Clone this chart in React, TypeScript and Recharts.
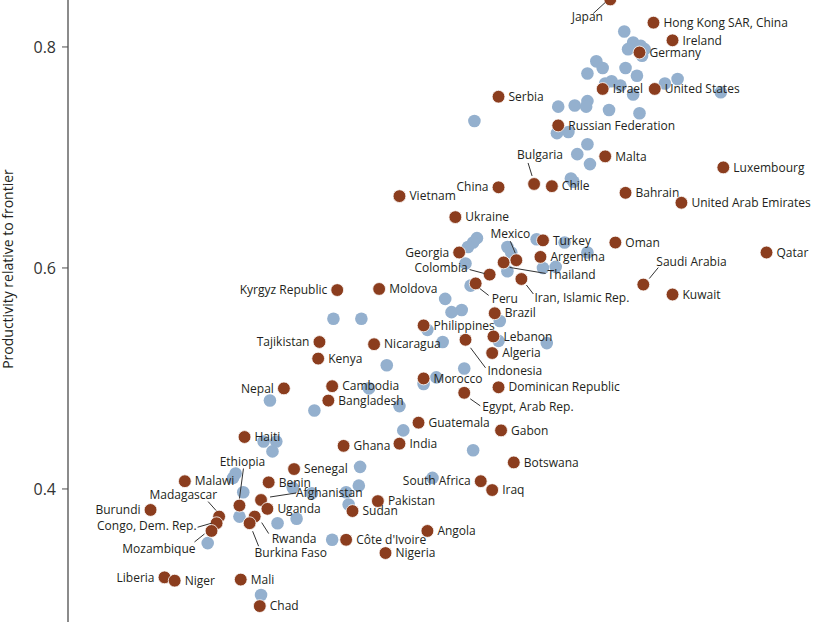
import React from "react";
import { Scatter, ScatterChart, XAxis, YAxis } from "recharts";

// Productivity relative to frontier vs. (unlabelled) income level, by economy.
const INK = "#231f20";
const AXIS = "#4d4d4d";
const BROWN = "#8b3d1e";
const BLUE = "#94b0ce";
const FONT = "'Open Sans', 'Noto Sans', sans-serif";

const Y_TICKS = [0.4, 0.6, 0.8];
const Y_DOMAIN: [number, number] = [0.2796, 0.8425];
const X_DOMAIN: [number, number] = [6, 12];

// Highlighted economies
const NAMES = [
  "Japan", "Hong Kong SAR, China", "Ireland", "Germany", "Israel", "United States",
  "Serbia", "Russian Federation", "Malta", "Luxembourg", "China", "Bulgaria", "Chile",
  "Bahrain", "United Arab Emirates", "Vietnam", "Ukraine", "Turkey", "Oman", "Qatar",
  "Georgia", "Argentina", "Mexico", "Thailand", "Colombia", "Iran, Islamic Rep.",
  "Saudi Arabia", "Kuwait", "Peru", "Brazil", "Philippines", "Lebanon", "Indonesia",
  "Algeria", "Morocco", "Dominican Republic", "Egypt, Arab Rep.", "Kyrgyz Republic",
  "Moldova", "Tajikistan", "Nicaragua", "Kenya", "Nepal", "Cambodia", "Bangladesh",
  "Guatemala", "Gabon", "India", "Botswana", "South Africa", "Iraq", "Angola", "Haiti",
  "Ghana", "Senegal", "Malawi", "Benin", "Afghanistan", "Uganda", "Pakistan", "Sudan",
  "Ethiopia", "Burundi", "Madagascar", "Congo, Dem. Rep.", "Mozambique", "Rwanda",
  "Burkina Faso", "Côte d'Ivoire", "Nigeria", "Liberia", "Niger", "Mali", "Chad",
];
const NAMED_X = [
  10.27, 10.61, 10.76, 10.5, 10.21, 10.62,
  9.39, 9.86, 10.23, 11.16, 9.39, 9.67, 9.81,
  10.39, 10.83, 8.61, 9.05, 9.74, 10.31, 11.5,
  9.08, 9.72, 9.53, 9.43, 9.32, 9.57,
  10.53, 10.76, 9.21, 9.36, 8.8, 9.35, 9.13,
  9.34, 8.8, 9.39, 9.12, 8.12,
  8.45, 7.98, 8.41, 7.97, 7.7, 8.08, 8.05,
  8.76, 9.41, 8.61, 9.51, 9.25, 9.34, 8.83, 7.39,
  8.17, 7.78, 6.92, 7.58, 7.52, 7.57, 8.44, 8.24,
  7.35, 6.65, 7.19, 7.17, 7.13, 7.47,
  7.43, 8.19, 8.5, 6.76, 6.84, 7.36, 7.51,
];
const NAMED_Y = [
  0.843, 0.822, 0.806, 0.795, 0.762, 0.762,
  0.755, 0.729, 0.701, 0.691, 0.673, 0.676, 0.674,
  0.668, 0.659, 0.665, 0.646, 0.625, 0.623, 0.614,
  0.614, 0.61, 0.607, 0.605, 0.594, 0.59,
  0.585, 0.576, 0.586, 0.559, 0.548, 0.538, 0.535,
  0.523, 0.5, 0.492, 0.487, 0.58,
  0.581, 0.533, 0.531, 0.518, 0.491, 0.493, 0.48,
  0.46, 0.453, 0.441, 0.424, 0.407, 0.399, 0.362, 0.447,
  0.439, 0.418, 0.407, 0.406, 0.39, 0.382, 0.389, 0.38,
  0.385, 0.381, 0.375, 0.369, 0.362, 0.375,
  0.369, 0.354, 0.342, 0.32, 0.317, 0.318, 0.294,
];

// Other economies
const OTHER_X = [
  10.38, 10.45, 10.41, 10.51, 10.54, 10.52, 10.16, 10.21, 10.09, 10.39, 10.48, 10.7,
  10.8, 11.14, 10.23, 10.28, 10.35, 10.45, 10.09, 10.08, 9.99, 9.86, 10.26, 10.5,
  9.2, 9.85, 9.94, 10.09, 10.01, 10.11, 9.96, 9.98,
  9.22, 9.19, 9.15, 9.69, 9.91, 10.09, 9.46, 9.49, 9.13, 9.74, 9.84, 9.46,
  9.17, 8.97, 9.02, 9.1, 9.4, 8.83, 8.95, 9.39, 9.77, 9.12, 8.9, 8.8,
  8.09, 8.31, 8.51, 7.59, 7.94, 8.37, 8.61, 8.64, 9.19, 8.87,
  7.54, 7.64, 7.61, 7.32, 7.3, 7.38, 8.3, 8.29, 8.19, 8.21, 7.77, 7.92,
  7.35, 7.65, 7.8, 8.08, 7.1, 7.52,
];
const OTHER_Y = [
  0.814, 0.804, 0.798, 0.801, 0.798, 0.792, 0.787, 0.781, 0.776, 0.781, 0.774, 0.767,
  0.771, 0.759, 0.767, 0.769, 0.765, 0.757, 0.751, 0.746, 0.747, 0.746, 0.743, 0.74,
  0.733, 0.722, 0.723, 0.712, 0.703, 0.694, 0.681, 0.678,
  0.627, 0.623, 0.619, 0.626, 0.623, 0.614, 0.619, 0.614, 0.604, 0.6, 0.601, 0.597,
  0.584, 0.572, 0.56, 0.562, 0.552, 0.544, 0.533, 0.534, 0.532, 0.509, 0.501, 0.495,
  0.554, 0.554, 0.512, 0.48, 0.471, 0.491, 0.475, 0.453, 0.435, 0.41,
  0.443, 0.443, 0.434, 0.414, 0.41, 0.397, 0.42, 0.403, 0.397, 0.386, 0.401, 0.396,
  0.375, 0.369, 0.373, 0.354, 0.351, 0.304,
];

const named = NAMES.map((name, i) => ({ name, x: NAMED_X[i], y: NAMED_Y[i] }));
const others = OTHER_X.map((x, i) => ({ x, y: OTHER_Y[i] }));

// Label placement: anchor, offset from the dot, optional leader line
type Place = { a: "start" | "end" | "middle"; dx: number; dy: number; line?: number[] };
const RIGHT: Place = { a: "start", dx: 10, dy: 0 };
const LEFT: Place = { a: "end", dx: -10, dy: 0 };
const PLACES: Record<string, Place> = {
  Georgia: LEFT,
  "Kyrgyz Republic": LEFT,
  Tajikistan: LEFT,
  Nepal: LEFT,
  Burundi: LEFT,
  Liberia: LEFT,
  China: LEFT,
  "South Africa": LEFT,
  Japan: { a: "middle", dx: -23, dy: 17, line: [-17, 14, -5, 3] },
  Bulgaria: { a: "middle", dx: 6, dy: -29, line: [-6, -21, -2, -8] },
  Mexico: { a: "middle", dx: -6, dy: -26, line: [-6, -19, -1, -7] },
  Thailand: { a: "start", dx: 44, dy: 12, line: [6, 5, 42, 11] },
  Colombia: { a: "end", dx: -22, dy: -7, line: [-20, -5, -5, -1] },
  "Iran, Islamic Rep.": { a: "start", dx: 13, dy: 19, line: [5, 6, 12, 15] },
  Peru: { a: "start", dx: 16, dy: 15, line: [4, 5, 13, 12] },
  "Saudi Arabia": { a: "start", dx: 13, dy: -23, line: [6, -6, 15, -17] },
  Indonesia: { a: "start", dx: 22, dy: 31, line: [5, 8, 20, 28] },
  "Egypt, Arab Rep.": { a: "start", dx: 18, dy: 14, line: [6, 6, 16, 13] },
  Ethiopia: { a: "middle", dx: 3, dy: -44, line: [4, -37, 0, -7] },
  Afghanistan: { a: "start", dx: 35, dy: -7, line: [9, -3, 35, -7] },
  Madagascar: { a: "end", dx: -2, dy: -22, line: [-11, -15, -3, -6] },
  "Congo, Dem. Rep.": { a: "end", dx: -20, dy: 3, line: [-19, 4, -5, 0] },
  Mozambique: { a: "end", dx: -16, dy: 18, line: [-17, 11, -7, 3] },
  Rwanda: { a: "start", dx: 17, dy: 22, line: [7, 6, 14, 17] },
  "Burkina Faso": { a: "start", dx: 5, dy: 30, line: [3, 8, 9, 23] },
};

function OtherDot({ cx, cy }: any) {
  return <circle cx={cx} cy={cy} r={6.3} fill={BLUE} />;
}

function NamedDot({ cx, cy, payload }: any) {
  const p = PLACES[payload.name] ?? RIGHT;
  const l = p.line;
  return (
    <g>
      <circle cx={cx} cy={cy} r={6.4} fill={BROWN} stroke="#fff" strokeWidth={0.8} />
      {l && <line x1={cx + l[0]} y1={cy + l[1]} x2={cx + l[2]} y2={cy + l[3]} stroke="#333" strokeWidth={1} />}
      <text
        x={cx + p.dx}
        y={cy + p.dy}
        dy="0.35em"
        textAnchor={p.a}
        fontSize={12}
        fontFamily={FONT}
        fill={INK}
      >
        {payload.name}
      </text>
    </g>
  );
}

function AxisTitle({ viewBox }: any) {
  const x = (viewBox?.x ?? 0) + 13;
  const y = 269;
  return (
    <text x={x} y={y} transform={`rotate(-90 ${x} ${y})`} textAnchor="middle" fontSize={14} fontFamily={FONT} fill={INK}>
      Productivity relative to frontier
    </text>
  );
}

export default function App() {
  return (
    <div style={{ position: "absolute", left: 0, top: 0, background: "#fff" }}>
      <ScatterChart width={830} height={622} margin={{ top: 0, right: 0, bottom: 0, left: 0 }}>
        <XAxis type="number" dataKey="x" domain={X_DOMAIN} allowDataOverflow hide />
        <YAxis
          type="number"
          dataKey="y"
          domain={Y_DOMAIN}
          allowDataOverflow
          ticks={Y_TICKS}
          tickFormatter={(v) => Number(v).toFixed(1)}
          width={68}
          tickSize={6}
          tickMargin={6}
          axisLine={{ stroke: AXIS, strokeWidth: 1.3 }}
          tickLine={{ stroke: AXIS }}
          tick={{ fontSize: 16, fill: "#333", fontFamily: FONT }}
          label={<AxisTitle />}
        />
        <Scatter data={others} shape={<OtherDot />} isAnimationActive={false} />
        <Scatter data={named} shape={<NamedDot />} isAnimationActive={false} />
      </ScatterChart>
    </div>
  );
}
